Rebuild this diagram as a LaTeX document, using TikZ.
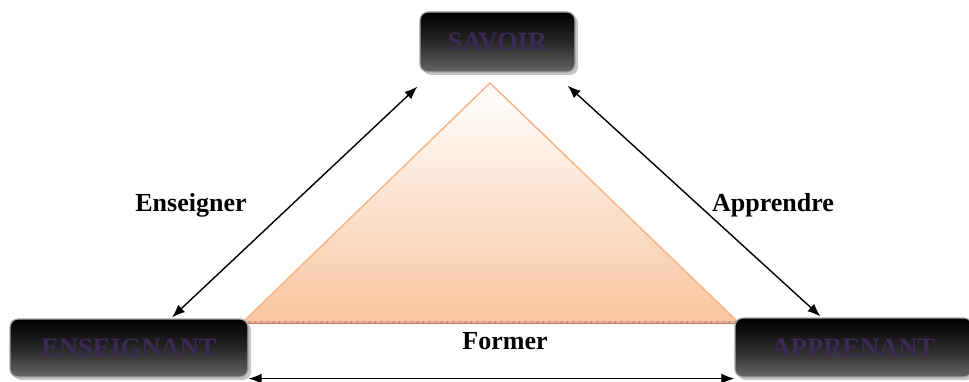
\documentclass[tikz,border=0pt]{standalone}
\usepackage{fontspec}
\setmainfont{Liberation Serif}
\usetikzlibrary{arrows.meta,calc,shadows}
\definecolor{boxtext}{HTML}{3B2A55}
\definecolor{peach}{HTML}{F9C6A0}
\definecolor{peachedge}{HTML}{F6B487}
\definecolor{basebrown}{HTML}{C47E62}
\begin{document}
\begin{tikzpicture}[x=1pt,y=1pt,
  rolebox/.style={rectangle, rounded corners=8pt, draw=gray!70, line width=1.2pt,
    top color=black, bottom color=black!60, middle color=black!85,
    text=boxtext, font=\fontsize{26.5}{28}\selectfont\bfseries,
    drop shadow={shadow xshift=3pt, shadow yshift=-3pt, fill=gray!45, opacity=1}},
  dbl/.style={{Latex[length=13pt,width=10pt]}-{Latex[length=13pt,width=10pt]}, line width=1.4pt, black},
  lbl/.style={font=\fontsize{26}{28}\selectfont\bfseries, text=black}
]
\useasboundingbox (0,0) rectangle (969,381);
% triangle
\coordinate (apex) at (490,298);
\coordinate (bl) at (243,59);
\coordinate (br) at (738,59);
\shade[top color=white, bottom color=peach] (apex) -- (bl) -- (br) -- cycle;
\draw[peachedge, line width=1.5pt, line join=round] (bl) -- (apex) -- (br);
\draw[basebrown!60, line width=3pt] (bl) -- (br);
\draw[basebrown, line width=3pt, dash pattern=on 1pt off 5pt] (bl) -- (br);
\draw[basebrown, line width=0.8pt] ($(bl)+(0,-1)$) -- ($(br)+(0,-1)$);
% boxes
\node[rolebox, minimum width=155pt, minimum height=60pt] (sav) at (497.5,339) {SAVOIR};
\node[rolebox, minimum width=238pt, minimum height=58pt] (ens) at (129,33) {ENSEIGNANT};
\node[rolebox, minimum width=237pt, minimum height=59pt] (app) at (853.5,33.5) {APPRENANT};
% arrows
\draw[dbl] ($(sav.south west)+(-2,-14)$) -- ($(ens.north)+(43,1)$);
\draw[dbl] ($(sav.south east)+(-8,-13)$) -- ($(app.north)+(-33,1)$);
\draw[dbl] ($(ens.south east)+(0,-1)$) -- ($(app.south west)+(0,-1)$);
% labels
\node[lbl] (lens) at (191,176) {Enseigner};
\node[lbl] (lapp) at (773,176) {Apprendre};
\node[lbl] (lfor) at (505,40) {Former};
\end{tikzpicture}
\end{document}
